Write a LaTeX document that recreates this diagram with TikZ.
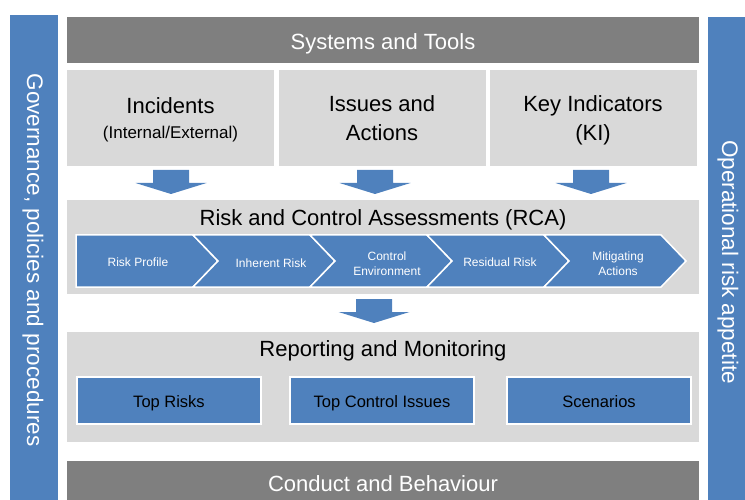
\documentclass[tikz,border=0pt]{standalone}
\usepackage{fontspec}
\setmainfont{Liberation Sans}
\definecolor{blueA}{HTML}{4F81BD}
\definecolor{grayA}{HTML}{7F7F7F}
\definecolor{grayB}{HTML}{D9D9D9}
\newcommand{\fsBig}{\fontsize{22}{29}\selectfont}
\newcommand{\fsMid}{\fontsize{16.5}{20}\selectfont}
\newcommand{\fsSmall}{\fontsize{12}{14.5}\selectfont}
\newcommand{\blockarrow}[2]{\fill[blueA] (#1-18,#2) -- (#1+18,#2) -- (#1+18,#2+13) -- (#1+35.5,#2+13) -- (#1,#2+24) -- (#1-35.5,#2+13) -- (#1-18,#2+13) -- cycle;}
\begin{document}
\begin{tikzpicture}[x=1pt,y=-1pt,
  every node/.style={inner sep=0pt, outer sep=0pt},
  oneline/.style={text height=#1, text depth=0pt},
  sidebar/.style={fill=blueA},
  sidetext/.style={text=white, font=\fontsize{22.5}{26}\selectfont, rotate=-90},
  darkbar/.style={fill=grayA, minimum width=632pt, text=white, font=\fsBig},
  darktext/.style={text=white, font=\fsBig, oneline=15.8pt},
  panel/.style={fill=grayB, minimum width=632pt},
  srcbox/.style={fill=grayB, minimum width=207pt, minimum height=96pt},
  title/.style={font=\fsBig, align=center, text=black},
  chev/.style={fill=blueA, draw=white, line width=1.5pt, line join=miter},
  chevtext/.style={text=white, font=\fsSmall, align=center},
  outbox/.style={fill=blueA, draw=white, line width=1.5pt, minimum width=184pt, minimum height=47pt},
  outtext/.style={font=\fsMid, text=black, oneline=11.8pt}
]
\useasboundingbox (0,0) rectangle (745,500);
% side bars
\node[sidebar, minimum width=48pt, minimum height=485pt] (leftbar) at (34,257.5) {};
\node[sidetext] (lefttext) at (33,260) {Governance, policies and procedures};
\node[sidebar, minimum width=40pt, minimum height=483pt] (rightbar) at (728,258.5) {};
\node[sidetext] (righttext) at (728,262) {Operational risk appetite};
% top bar
\node[darkbar, minimum height=46pt] (sys) at (383,40) {};
\node[darktext] (syst) at (383,41.3) {Systems and Tools};
% source boxes
\node[srcbox] (inc) at (170.5,118) {};
\node[srcbox] (iss) at (382,118) {};
\node[srcbox] (ki) at (593,118) {};
\node[title, oneline=15.8pt] (inct) at (170.5,106) {Incidents};
\node[font=\fontsize{17}{20}\selectfont] (incs) at (170.5,134) {(Internal/External)};
\node[title] (isst) at (382,118.5) {Issues and\\Actions};
\node[title] (kit) at (593,120) {Key Indicators\\(KI)};
% arrows
\blockarrow{171}{170}
\blockarrow{375}{170}
\blockarrow{591}{170}
% RCA panel
\node[panel, minimum height=94pt] (rca) at (383,247) {};
\node[title, oneline=15.8pt] (rcat) at (383,217.5) {Risk and Control Assessments (RCA)};
\path[chev] (76,235) -- (193,235) -- (218,261) -- (193,287) -- (76,287) -- cycle;
\path[chev] (193,235) -- (310,235) -- (335,261) -- (310,287) -- (193,287) -- (218,261) -- cycle;
\path[chev] (310,235) -- (427,235) -- (452,261) -- (427,287) -- (310,287) -- (335,261) -- cycle;
\path[chev] (427,235) -- (544,235) -- (569,261) -- (544,287) -- (427,287) -- (452,261) -- cycle;
\path[chev] (544,235) -- (661,235) -- (686,261) -- (661,287) -- (544,287) -- (569,261) -- cycle;
\node[chevtext] (c1) at (138,262) {Risk Profile};
\node[chevtext] (c2) at (271,263) {Inherent Risk};
\node[chevtext] (c3) at (387,263.5) {Control\\Environment};
\node[chevtext] (c4) at (500,262.5) {Residual Risk};
\node[chevtext] (c5) at (618,263.5) {Mitigating\\Actions};
% middle arrow
\blockarrow{374}{299}
% Reporting panel
\node[panel, minimum height=110pt] (rep) at (383,387) {};
\node[title, oneline=15.8pt] (rept) at (383,349) {Reporting and Monitoring};
\node[outbox] (top) at (169,400.5) {};
\node[outbox] (tci) at (382,400.5) {};
\node[outbox] (scen) at (599,400.5) {};
\node[outtext] (topt) at (169,401.5) {Top Risks};
\node[outtext] (tcit) at (382,401.5) {Top Control Issues};
\node[outtext] (scent) at (599,401.5) {Scenarios};
% bottom bar
\node[darkbar, minimum height=40pt] (cond) at (383,481) {};
\node[darktext] (condt) at (383,484) {Conduct and Behaviour};
\end{tikzpicture}
\end{document}
